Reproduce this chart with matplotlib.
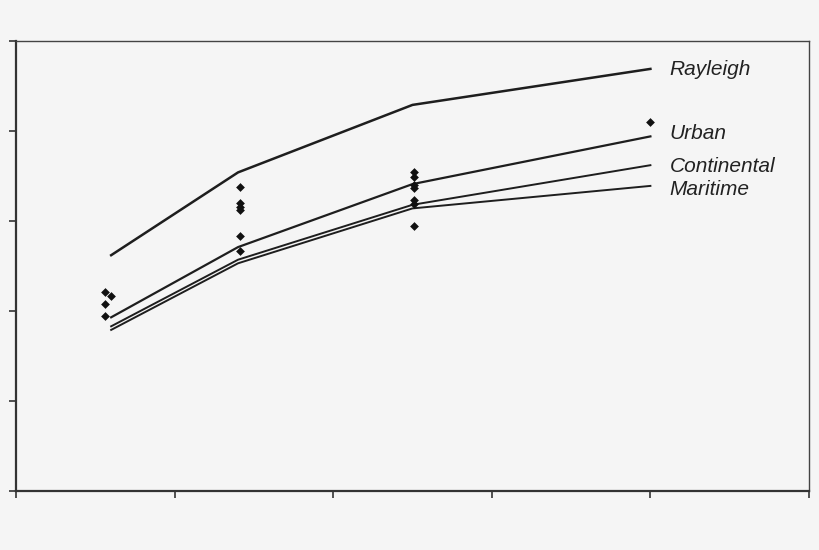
import matplotlib
matplotlib.use("Agg")
import matplotlib.pyplot as plt

# Model curves (x in axis units 0..5, y in axis units 0..5)
model_x = [0.6, 1.4, 2.5, 4.0]
rayleigh = [2.62, 3.54, 4.29, 4.69]
urban = [1.93, 2.71, 3.41, 3.94]
continental = [1.83, 2.57, 3.18, 3.62]
maritime = [1.79, 2.53, 3.14, 3.39]

series_names = ["Rayleigh", "Urban", "Continental", "Maritime"]
series_values = [rayleigh, urban, continental, maritime]
label_y = [4.68, 3.97, 3.61, 3.35]

# Measurements
obs_x = [0.56, 0.56, 0.56, 0.60,
         1.41, 1.41, 1.41, 1.41, 1.41, 1.41,
         2.51, 2.51, 2.51, 2.51, 2.51, 2.51, 2.51,
         4.0]
obs_y = [2.21, 2.08, 1.94, 2.17,
         3.38, 3.20, 3.16, 3.12, 2.83, 2.67,
         3.54, 3.49, 3.40, 3.37, 3.23, 3.19, 2.94,
         4.10]

bg = "#f5f5f5"
fig = plt.figure(figsize=(8.2, 5.5), dpi=100, facecolor=bg)
ax = fig.add_axes([16/820, 1-491/550, (809-16)/820, (491-41)/550])
ax.set_facecolor(bg)

widths = [1.8, 1.6, 1.4, 1.4]
for vals, lw in zip(series_values, widths):
    ax.plot(model_x, vals, color="#1e1e1e", lw=lw, solid_joinstyle="round")

ax.scatter(obs_x, obs_y, marker="D", s=20, color="#111111", zorder=3, linewidths=0)

for name, yv in zip(series_names, label_y):
    ax.text(4.12, yv, name, fontsize=15, fontstyle="italic",
            family=["Liberation Sans", "DejaVu Sans"],
            ha="left", va="center", color="#222222")

ax.set_xlim(0, 5)
ax.set_ylim(0, 5)
ax.set_xticks(range(6))
ax.set_yticks(range(6))
ax.set_xticklabels([])
ax.set_yticklabels([])
ax.tick_params(direction="out", length=5, width=1.2, color="#333333")

for side in ["left", "bottom"]:
    ax.spines[side].set_linewidth(1.6)
    ax.spines[side].set_color("#333333")
for side in ["top", "right"]:
    ax.spines[side].set_linewidth(1.0)
    ax.spines[side].set_color("#444444")

fig.savefig("out.png", dpi=100, facecolor=bg)
